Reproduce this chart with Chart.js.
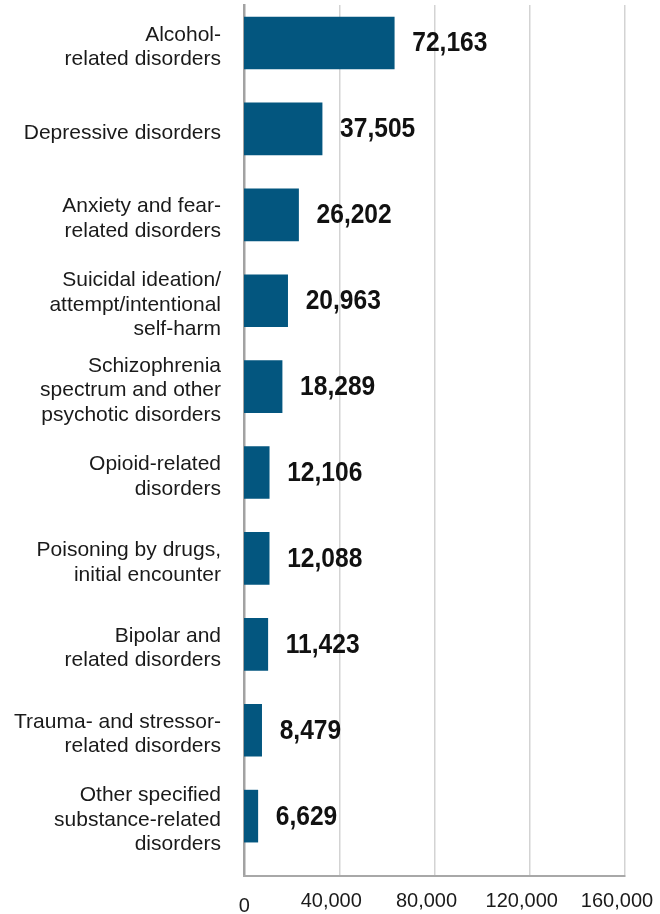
<!DOCTYPE html>
<html>
<head>
<meta charset="utf-8">
<title>Mental health visits</title>
<script src="https://cdn.jsdelivr.net/npm/chart.js@4/dist/chart.umd.min.js"></script>
<style>
html, body { margin: 0; padding: 0; background: #fff; }
canvas { display: block; }
</style>
</head>
<body>
<canvas id="graficoVisitas" width="660" height="914"></canvas>
<script>
// ======================================
// Data
// ======================================

const categorias = [
  ["Alcohol-", "related disorders"],
  ["Depressive disorders"],
  ["Anxiety and fear-", "related disorders"],
  ["Suicidal ideation/", "attempt/intentional", "self-harm"],
  ["Schizophrenia", "spectrum and other", "psychotic disorders"],
  ["Opioid-related", "disorders"],
  ["Poisoning by drugs,", "initial encounter"],
  ["Bipolar and", "related disorders"],
  ["Trauma- and stressor-", "related disorders"],
  ["Other specified", "substance-related", "disorders"]
];

const visitas = [72163, 37505, 26202, 20963, 18289, 12106, 12088, 11423, 8479, 6629];

const ticksEixoX = [0, 40000, 80000, 120000, 160000];

// the bars in the original are drawn on a longer scale than the printed ticks
const maxEscalaBarras = 183000;

const fonte = "'Liberation Sans', Arial, Helvetica, sans-serif";


// ======================================
// Value labels at the end of each bar
// ======================================

const rotulosValores = {
  id: "rotulosValores",
  afterDatasetsDraw(chart) {
    const ctx = chart.ctx;
    const meta = chart.getDatasetMeta(0);
    ctx.save();
    ctx.font = "bold 27px " + fonte;
    ctx.fillStyle = "#111";
    ctx.textAlign = "left";
    ctx.textBaseline = "middle";
    meta.data.forEach((barra, i) => {
      // condensed look, like the original's narrow bold face
      ctx.save();
      ctx.translate(barra.x + 18, barra.y + 1);
      ctx.scale(0.91, 1);
      ctx.fillText(visitas[i].toLocaleString("en-US"), 0, 0);
      ctx.restore();
    });
    ctx.restore();
  }
};


// ======================================
// Chart
// ======================================

const canvas = document.getElementById("graficoVisitas");

new Chart(canvas, {
  type: "bar",
  data: {
    datasets: [{
      data: visitas.map((v, i) => ({ x: v, y: i })),
      xAxisID: "xb",
      yAxisID: "y",
      backgroundColor: "#03567f",
      barThickness: 52
    }]
  },
  options: {
    indexAxis: "y",
    responsive: false,
    animation: false,
    layout: { padding: { top: 5, right: 35, bottom: 0, left: 0 } },
    plugins: {
      legend: { display: false },
      tooltip: { enabled: false }
    },
    scales: {
      y: {
        type: "linear",
        reverse: true,
        offset: false,
        bounds: "data",
        min: -0.4424,
        max: 9.697,
        afterBuildTicks(scale) {
          scale.ticks = categorias.map((c, i) => ({ value: i }));
        },
        afterFit(scale) {
          scale.width = 244;
          scale.paddingTop = 0;
          scale.paddingBottom = 0;
        },
        grid: { display: false, drawTicks: false, offset: false },
        border: { display: true, color: "#a2a2a2", width: 2.5 },
        ticks: {
          autoSkip: false,
          padding: 23,
          labelOffset: 4,
          color: "#1a1a1a",
          font: { family: fonte, size: 21, lineHeight: 1.17 },
          callback: (valor) => categorias[valor]
        }
      },
      x: {
        type: "linear",
        position: "bottom",
        min: ticksEixoX[0],
        max: ticksEixoX[ticksEixoX.length - 1],
        afterBuildTicks(scale) {
          scale.ticks = ticksEixoX.map(v => ({ value: v }));
        },
        afterFit(scale) {
          scale.height = 38;
          scale.paddingLeft = 0;
          scale.paddingRight = 0;
        },
        grid: { color: "#d3d3d3", lineWidth: 1.5, drawTicks: false },
        border: { display: true, color: "#a8a8a8", width: 2 },
        ticks: {
          autoSkip: false,
          maxRotation: 0,
          padding: 15,
          labelOffset: -8,
          color: "#1a1a1a",
          font: (ctx) => ({
            family: fonte,
            size: 20,
            lineHeight: ctx.tick && ctx.tick.value === 0 ? "30px" : "20px"
          }),
          callback: (valor) => valor === 0 ? "   0" : valor.toLocaleString("en-US")
        }
      },
      xb: {
        type: "linear",
        display: false,
        min: 0,
        max: maxEscalaBarras
      }
    }
  },
  plugins: [rotulosValores]
});
</script>
</body>
</html>
